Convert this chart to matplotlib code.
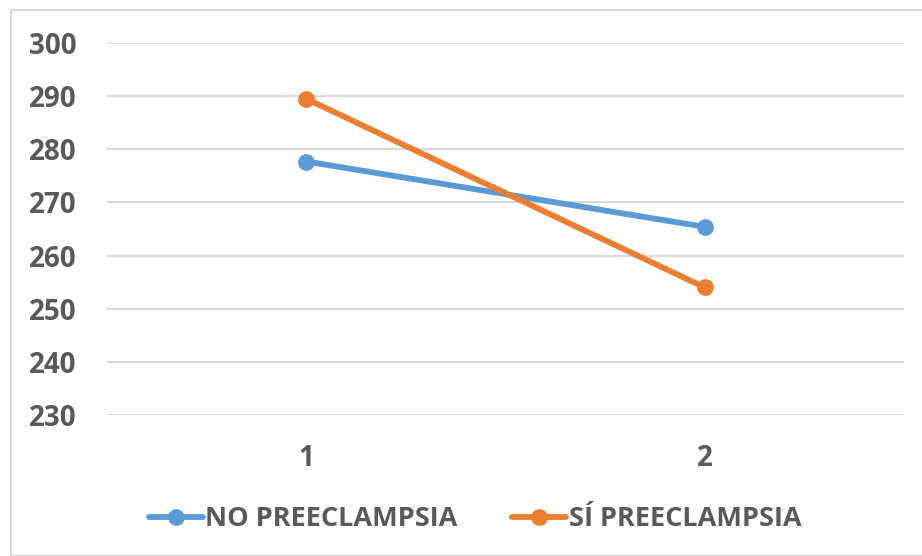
import matplotlib.pyplot as plt
from matplotlib.patches import Rectangle

# =========================
# DATA
# =========================
categories = [1, 2]
no_preeclampsia = [277.7, 265.4]
si_preeclampsia = [289.5, 254.0]
y_ticks = [230, 240, 250, 260, 270, 280, 290, 300]

plt.rcParams['font.family'] = ['Open Sans', 'DejaVu Sans']
text_color = '#595959'

fig = plt.figure(figsize=(9.22, 5.56), dpi=100)
W, H = 922, 556
ax = fig.add_axes([107 / W, 1 - 415 / H, (904 - 107) / W, (415 - 43) / H])

# outer chart border
fig.patches.append(Rectangle((11 / W, 0), 1.0, 1 - 10 / H, transform=fig.transFigure,
                             fill=False, edgecolor='#d9d9d9', linewidth=1.5))

ax.plot(categories, no_preeclampsia, color='#5b9bd5', linewidth=4.2, marker='o',
        markersize=11, label='NO PREECLAMPSIA', solid_capstyle='round', zorder=3)
ax.plot(categories, si_preeclampsia, color='#ed7d31', linewidth=4.2, marker='o',
        markersize=11, label='SÍ PREECLAMPSIA', solid_capstyle='round', zorder=3)

ax.set_xlim(0.5, 2.5)
ax.set_ylim(230, 300)
ax.set_xticks(categories)
ax.set_yticks(y_ticks)
ax.grid(axis='y', color='#d9d9d9', linewidth=1.5)
ax.set_axisbelow(True)
for s in ax.spines.values():
    s.set_visible(False)
ax.tick_params(length=0, labelsize=20, labelcolor=text_color)
ax.tick_params(axis='y', pad=22)
ax.tick_params(axis='x', pad=21)
for lab in ax.get_xticklabels() + ax.get_yticklabels():
    lab.set_fontweight('bold')

fig.legend(loc='center', bbox_to_anchor=(475 / W, 1 - 519 / H), ncol=2, frameon=False,
           prop={'size': 19.5, 'weight': 'bold'}, labelcolor=text_color,
           handlelength=2.0, handletextpad=0.1, columnspacing=2.0)

fig.savefig('out.png', dpi=100)
